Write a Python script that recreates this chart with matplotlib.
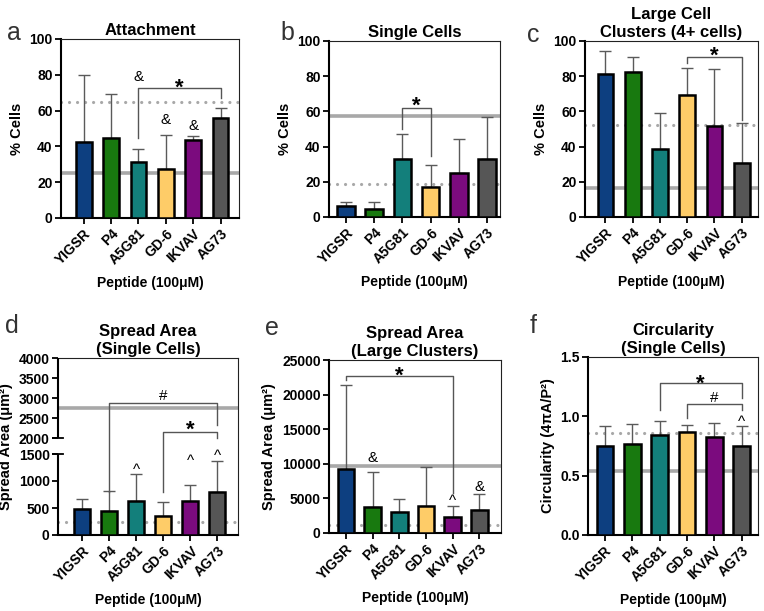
import numpy as np
import matplotlib
matplotlib.use('Agg')
import matplotlib.pyplot as plt
from matplotlib import transforms as mtransforms

plt.rcParams['font.family'] = ['Liberation Sans', 'DejaVu Sans']
plt.rcParams['font.weight'] = 'bold'
plt.rcParams['axes.titleweight'] = 'bold'
plt.rcParams['axes.labelweight'] = 'bold'

# data
peptides = ['YIGSR', 'P4', 'A5G81', 'GD-6', 'IKVAV', 'AG73']
colors = ['#0d3f80', '#18790f', '#137f7b', '#fecc68', '#7b0b7e', '#565656']

attach_mean = [42.6, 44.5, 31.3, 27.2, 43.6, 55.7]
attach_top = [79.9, 69.1, 38.4, 46.2, 45.8, 61.6]
attach_ref = [25, 65]          # solid, dotted

single_mean = [6.4, 4.5, 32.8, 16.9, 24.8, 33.1]
single_top = [8.7, 8.7, 47.0, 29.5, 44.5, 56.6]
single_ref = [57.4, 18.75]

cluster_mean = [81.2, 82.4, 38.6, 69.5, 51.9, 30.9]
cluster_top = [94.5, 91.1, 59.3, 84.8, 84.1, 53.2]
cluster_ref = [16.3, 52.0]

area_s_mean = [481, 450, 637, 356, 625, 800]
area_s_top = [675, 812, 1125, 606, 925, 1362]
area_s_ref = [2742, 250]

area_c_mean = [9230, 3750, 2980, 3940, 2300, 3270]
area_c_top = [21400, 8750, 4950, 9470, 3850, 5625]
area_c_ref = [9700, 1150]

circ_mean = [0.754, 0.771, 0.839, 0.872, 0.822, 0.746]
circ_top = [0.915, 0.934, 0.960, 0.926, 0.940, 0.915]
circ_ref = [0.54, 0.858]

fig = plt.figure(figsize=(7.64, 6.11), dpi=100)
W, H = 764., 611.


def new_ax(x0, x1, y0, y1):
    return fig.add_axes([x0 / W, 1 - y1 / H, (x1 - x0) / W, (y1 - y0) / H])


def draw(ax, means, tops, ref, xlim, width):
    x = np.arange(len(peptides))
    ax.axhline(ref[0], color='#a8a8a8', lw=2.6, zorder=1)
    ax.axhline(ref[1], color='#a8a8a8', lw=2.3, ls=(0, (0.01, 2.5)),
               dash_capstyle='round', zorder=1)
    up = np.array(tops) - np.array(means)
    ax.errorbar(x, means, yerr=[np.zeros_like(up), up], fmt='none',
                ecolor='#5a5a5a', elinewidth=1, capsize=4.5, capthick=1, zorder=2)
    ax.bar(x, means, width=width, color=colors, edgecolor='black', linewidth=1.8, zorder=3)
    ax.set_xlim(*xlim)
    ax.set_xticks(x)
    ax.set_xticklabels(peptides, rotation=45, ha='right', rotation_mode='anchor')
    for s in ['left', 'bottom']:
        ax.spines[s].set_linewidth(1.5)
    for s in ['top', 'right']:
        ax.spines[s].set_linewidth(0.8)
        ax.spines[s].set_color('#222222')
    ax.tick_params(direction='out', length=4, width=1.3, labelsize=10, pad=2)
    ax.set_xlabel('Peptide (100\u03bcM)', fontsize=10, labelpad=6)


def bracket(ax, x1, x2, y1, yh, y2):
    ax.plot([x1, x1, x2, x2], [y1, yh, yh, y2], color='#555555', lw=1,
            zorder=4, clip_on=False)


lift = {'*': 0.30, '^': 0.25, '&': 0.10, '#': 0.10}


def mark(ax, x, y, s, size=11, weight='normal'):
    tr = mtransforms.offset_copy(ax.transData, fig=fig, y=-lift[s] * size, units='points')
    ax.text(x, y, s, ha='center', va='center', fontsize=size, fontweight=weight,
            transform=tr, zorder=5, clip_on=False)


# a
ax = new_ax(61, 239, 39, 218)
draw(ax, attach_mean, attach_top, attach_ref, (-0.83, 5.67), 0.57)
ax.set_ylim(0, 100)
ax.set_yticks([0, 20, 40, 60, 80, 100])
ax.set_ylabel('% Cells', fontsize=10.5)
ax.set_title('Attachment', fontsize=12, pad=3)
bracket(ax, 2, 5, 44.5, 72.4, 66.9)
mark(ax, 3.5, 76.1, '*', 16, 'bold')
mark(ax, 2, 79.9, '&')
mark(ax, 3, 55.7, '&')
mark(ax, 4, 52.0, '&')

# b
ax = new_ax(329, 500, 41, 217)
draw(ax, single_mean, single_top, single_ref, (-0.61, 5.47), 0.63)
ax.set_ylim(0, 100)
ax.set_yticks([0, 20, 40, 60, 80, 100])
ax.set_ylabel('% Cells', fontsize=10.5)
ax.set_title('Single Cells', fontsize=12, pad=3)
bracket(ax, 2, 3, 49.8, 62.1, 34.8)
mark(ax, 2.5, 66.9, '*', 16, 'bold')

# c
ax = new_ax(585, 758, 41, 217)
draw(ax, cluster_mean, cluster_top, cluster_ref, (-0.75, 5.6), 0.58)
ax.set_ylim(0, 100)
ax.set_yticks([0, 20, 40, 60, 80, 100])
ax.set_ylabel('% Cells', fontsize=10.5)
ax.set_title('Large Cell\nClusters (4+ cells)', fontsize=12, pad=3)
bracket(ax, 3, 5, 87.3, 91.1, 55)
mark(ax, 4, 95.3, '*', 16, 'bold')

# d  (broken y axis)
d_knots = [-1e5, 0, 1500, 2000, 4000, 1e5]
s_knots = [-1e5 * 0.054, 0, 81, 97, 177, 177 + 96000 * 0.04]


def fwd(y):
    return np.interp(y, d_knots, s_knots)


def inv(s):
    return np.interp(s, s_knots, d_knots)


ax = new_ax(58, 238, 358, 535)
ax.set_yscale('function', functions=(fwd, inv))
draw(ax, area_s_mean, area_s_top, area_s_ref, (-0.89, 5.76), 0.59)
ax.set_ylim(0, 4000)
ax.set_yticks(np.arange(0, 4001, 500))
ax.set_yticklabels([str(v) for v in range(0, 4001, 500)])
ax.minorticks_off()
ax.spines['left'].set_visible(False)
tr = ax.get_yaxis_transform()
for seg in ([0, 1500], [2000, 4000]):
    ax.plot([0, 0], seg, transform=tr, color='black', lw=1.5, clip_on=False,
            solid_capstyle='butt', zorder=6)
for yb in (1500, 2000):
    ax.plot([-0.028, 0.028], [yb, yb], transform=tr, color='black', lw=1.3,
            clip_on=False, zorder=6)
ax.set_ylabel('Spread Area (\u03bcm\u00b2)', fontsize=10.5)
ax.set_title('Spread Area\n(Single Cells)', fontsize=12, pad=3)
bracket(ax, 1, 5, 802, 2882, 2325)
mark(ax, 3, 3095, '#')
bracket(ax, 3, 5, 802, 2157, 2010)
mark(ax, 4, 2358, '*', 16, 'bold')
mark(ax, 2, 1283, '^')
mark(ax, 4, 1450, '^')
mark(ax, 5, 1572, '^')

# e
ax = new_ax(329, 501, 360, 533)
draw(ax, area_c_mean, area_c_top, area_c_ref, (-0.63, 5.81), 0.62)
ax.set_ylim(0, 25000)
ax.set_yticks(np.arange(0, 25001, 5000))
ax.set_ylabel('Spread Area (\u03bcm\u00b2)', fontsize=10.5)
ax.set_title('Spread Area\n(Large Clusters)', fontsize=12, pad=3)
bracket(ax, 0, 4, 22110, 22688, 5825)
mark(ax, 2, 23555, '*', 16, 'bold')
mark(ax, 1, 11025, '&')
mark(ax, 4, 5245, '^')
mark(ax, 5, 6936, '&')

# f
ax = new_ax(588, 758, 357, 535)
draw(ax, circ_mean, circ_top, circ_ref, (-0.62, 5.6), 0.61)
ax.set_ylim(0, 1.5)
ax.set_yticks([0, 0.5, 1.0, 1.5])
ax.set_yticklabels(['0.0', '0.5', '1.0', '1.5'])
ax.set_ylabel('Circularity (4\u03c0A/P\u00b2)', fontsize=10.5)
ax.set_title('Circularity\n(Single Cells)', fontsize=12, pad=3)
bracket(ax, 2, 5, 1.053, 1.28, 1.155)
mark(ax, 3.5, 1.327, '*', 16, 'bold')
bracket(ax, 3, 5, 0.985, 1.10, 1.05)
mark(ax, 4, 1.168, '#')
mark(ax, 5, 0.983, '^')

# panel letters
for s, x, yb in [('a', 7, 40), ('b', 280, 40), ('c', 527, 42),
                 ('d', 5, 333), ('e', 265, 335), ('f', 530, 333)]:
    fig.text(x / W, 1 - yb / H, s, fontsize=18, fontweight='normal',
             color='#333333', va='baseline')

fig.savefig('out.png', dpi=100)
